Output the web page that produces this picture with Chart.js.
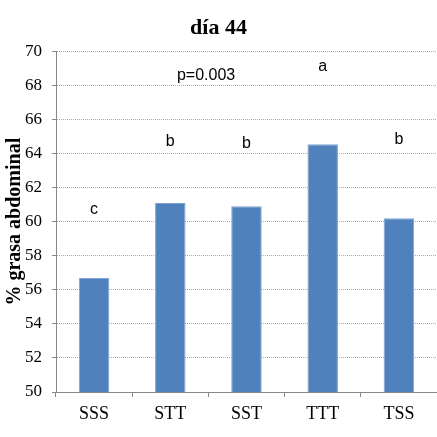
<!DOCTYPE html>
<html>
<head>
<meta charset="utf-8">
<script src="https://cdn.jsdelivr.net/npm/chart.js@4/dist/chart.umd.min.js"></script>
<style>
html,body{margin:0;padding:0;background:#fff;}
#wrap{width:437px;height:437px;}
</style>
</head>
<body>
<div id="wrap"><canvas id="c" width="437" height="437"></canvas></div>
<script>
const titleText = 'día 44';
const yTitle = '% grasa abdominal';
const categories = ['SSS', 'STT', 'SST', 'TTT', 'TSS'];
const values = [56.7, 61.1, 60.9, 64.55, 60.2];
const letters = ['c', 'b', 'b', 'a', 'b'];
const letterY = [60.7, 64.7, 64.6, 69.1, 64.8];
const pText = 'p=0.003';
const pPos = [1.47, 68.6];
const yMin = 50, yMax = 70, yStep = 2;

const annot = {
  id: 'annot',
  afterDatasetsDraw(chart) {
    const {ctx, scales: {x, y}} = chart;
    ctx.save();
    ctx.fillStyle = '#000';
    ctx.textAlign = 'center';
    ctx.textBaseline = 'middle';
    ctx.font = '16px "Liberation Sans Narrow", "Liberation Sans", sans-serif';
    letters.forEach((t, i) => {
      ctx.fillText(t, x.getPixelForValue(i), y.getPixelForValue(letterY[i]));
    });
    const step = x.getPixelForValue(1) - x.getPixelForValue(0);
    ctx.fillText(pText, x.getPixelForValue(0) + step * pPos[0], y.getPixelForValue(pPos[1]));
    ctx.restore();
  }
};

new Chart(document.getElementById('c'), {
  type: 'bar',
  data: {
    labels: categories,
    datasets: [{
      data: values,
      backgroundColor: '#4f81bd',
      borderColor: '#7ea3d3',
      borderWidth: 1,
      barPercentage: 0.8,
      categoryPercentage: 0.5
    }]
  },
  options: {
    responsive: false,
    animation: false,
    layout: {padding: {left: 0, right: 0, top: 0, bottom: 0}},
    plugins: {
      legend: {display: false},
      tooltip: {enabled: false},
      title: {
        display: true,
        text: titleText,
        color: '#000',
        font: {family: '"Liberation Serif", serif', size: 22, weight: 'bold', lineHeight: 1.2},
        padding: {top: 15, bottom: 10}
      }
    },
    scales: {
      x: {
        afterFit(s) { s.height = 45; },
        grid: {display: true, drawOnChartArea: false, drawTicks: true, tickLength: 5, color: '#888', tickColor: '#888', tickBorderDash: []},
        border: {display: true, color: '#888', width: 1},
        ticks: {color: '#000', padding: 6, font: {family: '"Liberation Serif", serif', size: 18}}
      },
      y: {
        min: yMin, max: yMax,
        afterFit(s) { s.width = 56; },
        grid: {color: '#aaa', lineWidth: 1, tickLength: 4, tickColor: '#888', tickBorderDash: []},
        border: {display: true, color: '#888', width: 1, dash: [1, 1]},
        ticks: {stepSize: yStep, color: '#000', padding: 10, font: {family: '"Liberation Serif", serif', size: 17}},
        title: {
          display: true, text: yTitle, color: '#000',
          font: {family: '"Liberation Serif", serif', size: 20, weight: 'bold', lineHeight: 1.2},
          padding: {top: 3, bottom: 0}
        }
      }
    }
  },
  plugins: [annot]
});
</script>
</body>
</html>
